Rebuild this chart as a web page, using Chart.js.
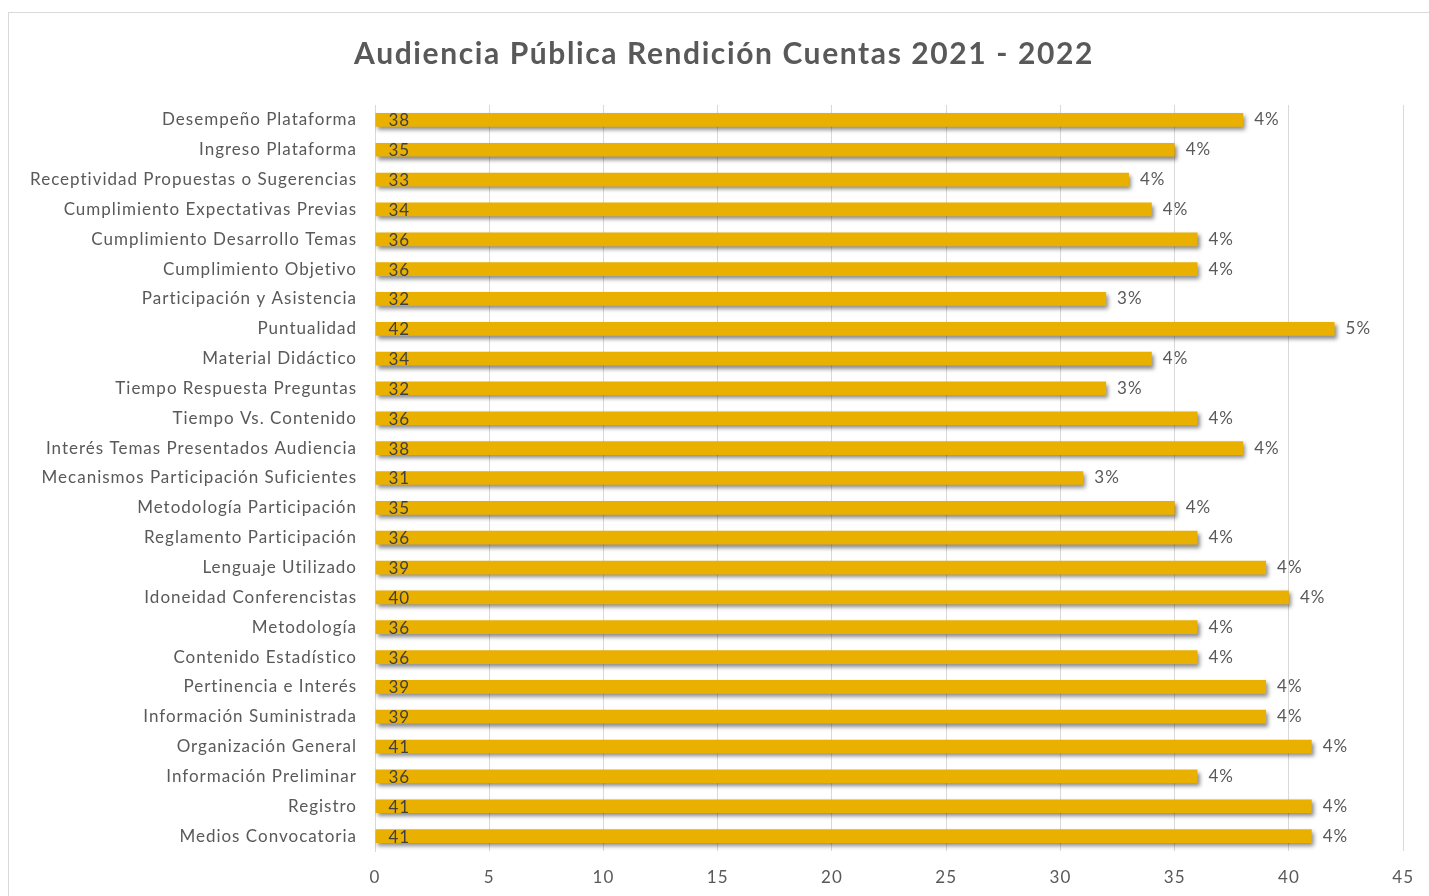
<!DOCTYPE html>
<html>
<head>
<meta charset="utf-8">
<script src="https://cdn.jsdelivr.net/npm/chart.js@4"></script>
<style>
  html, body { margin: 0; padding: 0; background: #fff; overflow: hidden; }
  #wrap { position: absolute; left: 0; top: 0; width: 1429px; height: 896px; }
  #frame { position: absolute; left: 8px; top: 12px; width: 1440px; height: 900px; border: 1px solid #d9d9d9; }
  canvas { position: absolute; left: 0; top: 0; }
</style>
</head>
<body>
<div id="wrap">
  <div id="frame"></div>
  <canvas id="chart" width="1429" height="896"></canvas>
</div>
<script>
// categorias (de arriba hacia abajo)
const categorias = [
  'Desempeño Plataforma', 'Ingreso Plataforma', 'Receptividad Propuestas o Sugerencias',
  'Cumplimiento Expectativas Previas', 'Cumplimiento Desarrollo Temas', 'Cumplimiento Objetivo',
  'Participación y Asistencia', 'Puntualidad', 'Material Didáctico', 'Tiempo Respuesta Preguntas',
  'Tiempo Vs. Contenido', 'Interés Temas Presentados Audiencia', 'Mecanismos Participación Suficientes',
  'Metodología Participación', 'Reglamento Participación', 'Lenguaje Utilizado',
  'Idoneidad Conferencistas', 'Metodología', 'Contenido Estadístico', 'Pertinencia e Interés',
  'Información Suministrada', 'Organización General', 'Información Preliminar', 'Registro',
  'Medios Convocatoria'
];
const valores = [38, 35, 33, 34, 36, 36, 32, 42, 34, 32, 36, 38, 31, 35, 36, 39, 40, 36, 36, 39, 39, 41, 36, 41, 41];
const ejeMin = 0, ejeMax = 45, ejePaso = 5;
const titulo = 'Audiencia Pública Rendición Cuentas 2021 - 2022';

const total = valores.reduce((a, b) => a + b, 0);
const FONT = 'Lato, "Open Sans", sans-serif';

// espaciado de letras (imita el texto de Excel)
const espaciado = {
  id: 'espaciado',
  beforeDraw(chart) {
    chart.ctx.letterSpacing = '1px';
  }
};

// sombra de las barras
const sombra = {
  id: 'sombra',
  beforeDatasetDraw(chart) {
    const c = chart.ctx;
    c.save();
    c.shadowColor = 'rgba(0,0,0,0.45)';
    c.shadowOffsetX = 2;
    c.shadowOffsetY = 3;
    c.shadowBlur = 4;
  },
  afterDatasetDraw(chart) {
    chart.ctx.restore();
  }
};

// etiquetas: valor dentro al inicio, porcentaje al final, y titulo
const etiquetas = {
  id: 'etiquetas',
  afterDatasetsDraw(chart) {
    const c = chart.ctx;
    const meta = chart.getDatasetMeta(0);
    c.save();
    c.font = '17px ' + FONT;
    c.textBaseline = 'middle';
    c.textAlign = 'left';
    meta.data.forEach((bar, i) => {
      const v = valores[i];
      c.fillStyle = '#404040';
      c.fillText(String(v), bar.base + 13, bar.y + 1);
      c.fillStyle = '#595959';
      c.fillText(Math.round(v / total * 100) + '%', bar.x + 11, bar.y);
    });
    c.restore();
  },
  afterDraw(chart) {
    const c = chart.ctx;
    c.save();
    c.letterSpacing = '1.6px';
    c.font = 'bold 30px ' + FONT;
    c.fillStyle = '#595959';
    c.textAlign = 'center';
    c.textBaseline = 'middle';
    c.fillText(titulo, 724, 54);
    c.restore();
  }
};

new Chart(document.getElementById('chart'), {
  type: 'bar',
  data: {
    labels: categorias,
    datasets: [{
      data: valores,
      backgroundColor: '#EAB000',
      borderWidth: 0,
      barPercentage: 0.46,
      categoryPercentage: 1
    }]
  },
  options: {
    indexAxis: 'y',
    responsive: false,
    animation: false,
    layout: { padding: { left: 0, right: 24, top: 105, bottom: 0 } },
    plugins: {
      legend: { display: false },
      tooltip: { enabled: false },
      title: { display: false }
    },
    scales: {
      x: {
        min: ejeMin,
        max: ejeMax,
        ticks: { stepSize: ejePaso, color: '#595959', font: { family: FONT, size: 17 }, padding: 16 },
        grid: { color: '#d9d9d9', drawTicks: false },
        border: { display: false },
        afterFit(scale) { scale.height = 45; }
      },
      y: {
        ticks: { color: '#595959', font: { family: FONT, size: 17 }, padding: 18, autoSkip: false },
        grid: { display: false, drawTicks: false },
        border: { display: true, color: '#d9d9d9' },
        afterFit(scale) { scale.width = 375; }
      }
    }
  },
  plugins: [espaciado, sombra, etiquetas]
});
</script>
</body>
</html>
